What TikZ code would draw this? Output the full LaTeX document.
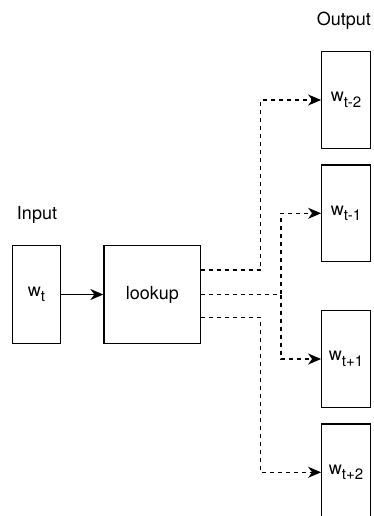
\documentclass[tikz,border=0pt]{standalone}
\usepackage{fontspec}
\setmainfont{TeX Gyre Heros}
\usetikzlibrary{arrows.meta}
% word with a lowered, smaller subscript
\newcommand\wsub[1]{w\raisebox{-5.5pt}{\fontsize{15}{15}\selectfont #1}}
\begin{document}
\begin{tikzpicture}[x=1pt,y=-1pt,
  box/.style={draw,line width=1.3pt,minimum width=48.5pt,minimum height=96.5pt,
    inner sep=0pt,font=\fontsize{18}{20}\selectfont},
  wide/.style={box,minimum width=96.7pt,minimum height=97.6pt},
  lbl/.style={anchor=base west,inner sep=0pt,font=\fontsize{18}{20}\selectfont},
  link/.style={line width=1.3pt,-{Stealth[length=13pt,width=11pt,inset=4pt]}},
  dlink/.style={link,dash pattern=on 4pt off 4pt}]
\clip (0,0) rectangle (374,516);
\fill[white] (0,0) rectangle (374,516);

% input side
\node[lbl] (inlbl) at (16.7,219) {Input};
\node[box,minimum height=97.6pt] (in) at (36.5,294.5) {\wsub{t}};
\node[wide] (lk) at (152.35,294.5) {lookup};

% output side
\node[lbl] (outlbl) at (316.7,26) {Output};
\node[box] (o1) at (346,100)   {\wsub{t-2}};
\node[box] (o2) at (346,213.3) {\wsub{t-1}};
\node[box] (o3) at (346,359)   {\wsub{t+1}};
\node[box] (o4) at (346,472.3) {\wsub{t+2}};

% x positions of the vertical branches
\coordinate (ja) at (260.7,0);
\coordinate (jb) at (281,0);
\coordinate (sa) at (200.7,270);
\coordinate (sc) at (200.7,317.7);

\draw[link] (in) -- (lk);

% outer branch: w_{t-2} and w_{t+2}
\draw[dlink] (sa) -- (ja |- sa) |- (o1.west);
\draw[dlink] (sc) -- (ja |- sc) |- (o4.west);

% inner branch: w_{t-1} and w_{t+1}
\draw[dlink] (lk.east) -- (jb |- lk.east) |- (o2.west);
\draw[dlink] (jb |- lk.east) |- (o3.west);
\end{tikzpicture}
\end{document}
